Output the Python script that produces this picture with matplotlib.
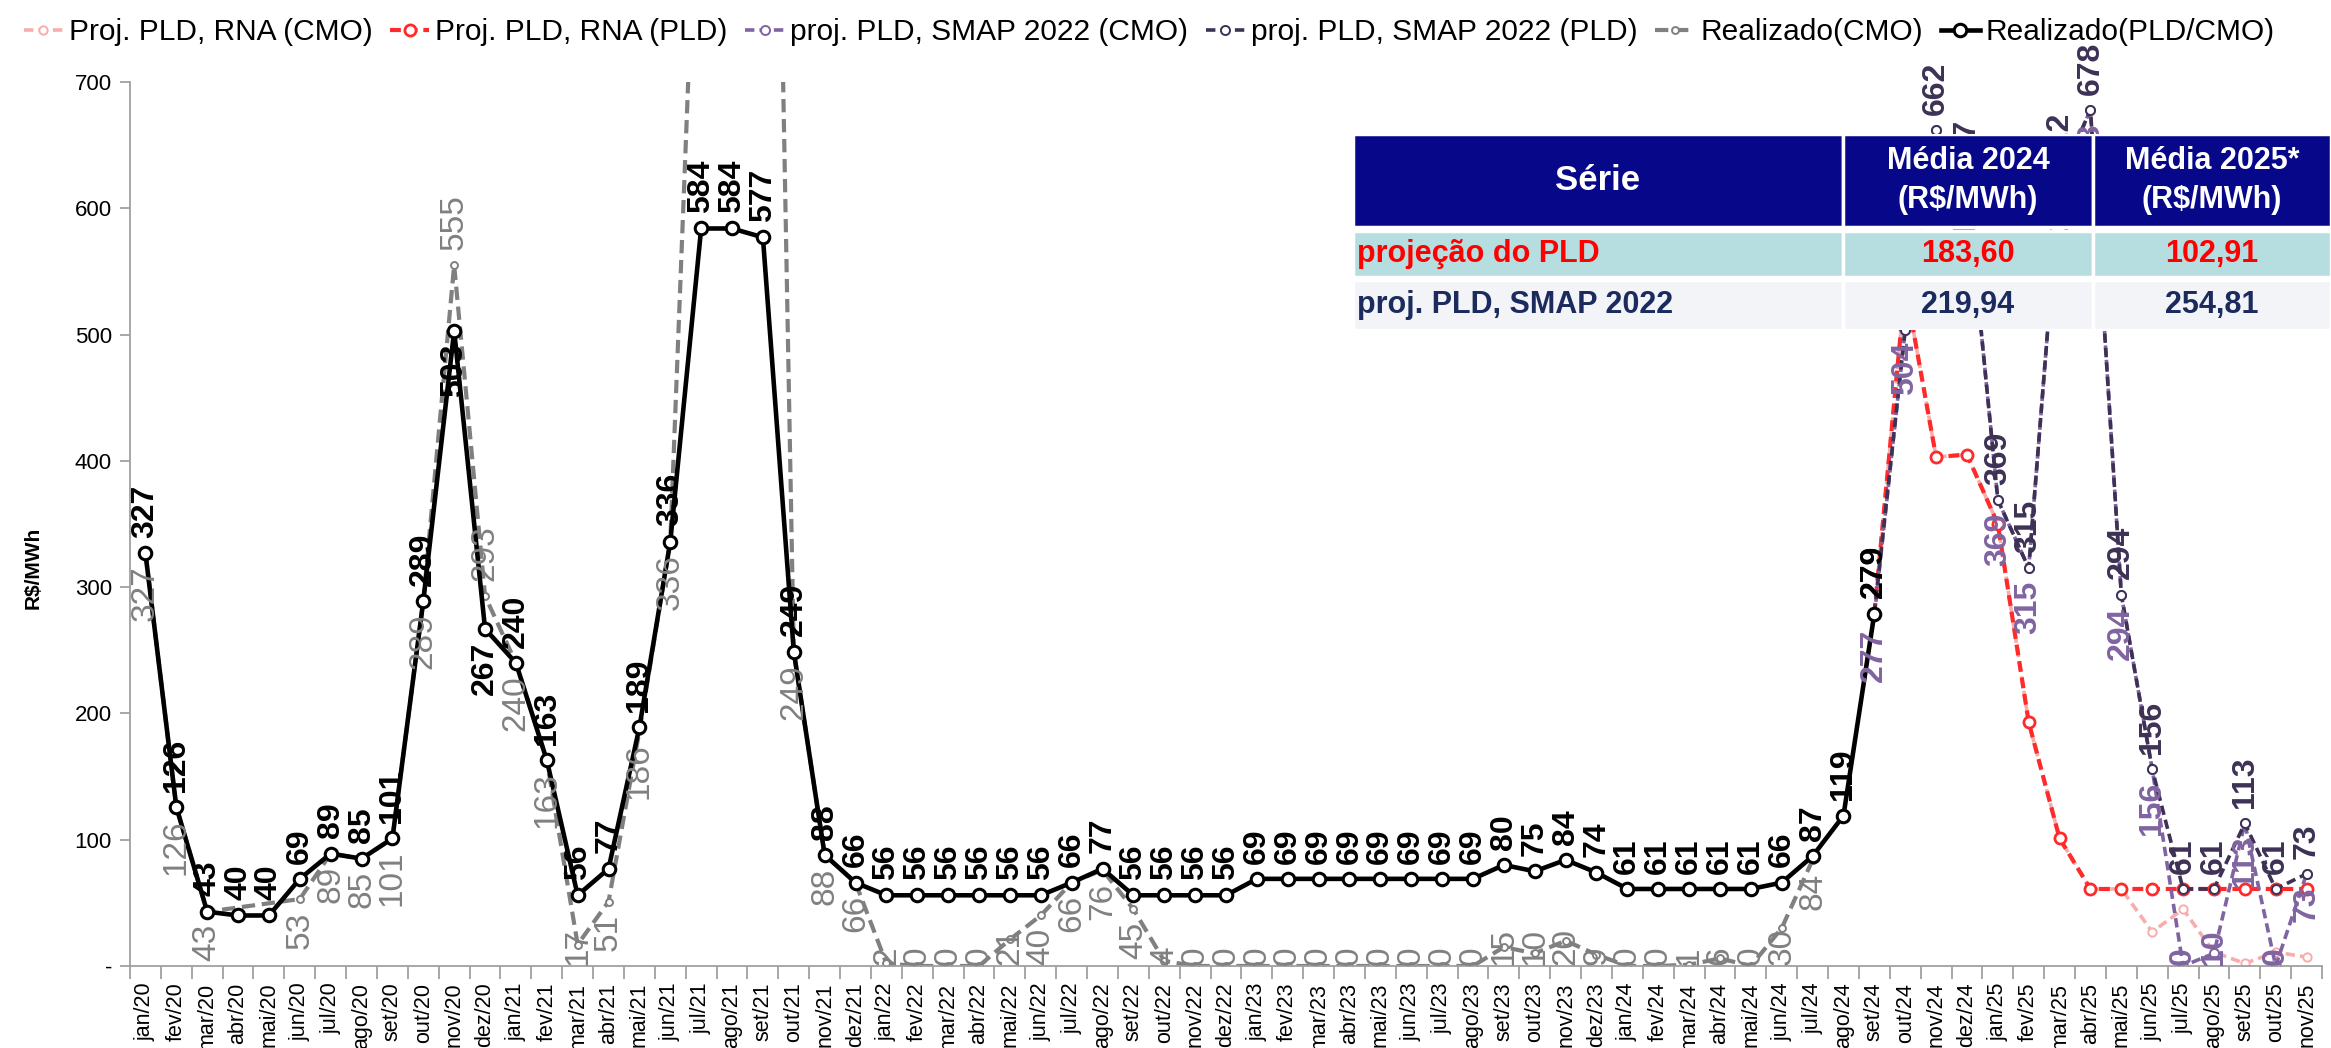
import numpy as np
import matplotlib
matplotlib.use('Agg')
import matplotlib.pyplot as plt
from matplotlib.patches import Rectangle

plt.rcParams['font.family'] = ['Liberation Sans', 'DejaVu Sans']

NaN = np.nan
months = ['jan', 'fev', 'mar', 'abr', 'mai', 'jun', 'jul', 'ago', 'set', 'out', 'nov', 'dez']
cats = [f'{m}/{y}' for y in range(20, 26) for m in months][:71]

# Realizado (PLD/CMO), jan/20 .. set/24
real_pld = [327, 126, 43, 40, 40, 69, 89, 85, 101, 289, 503, 267,
            240, 163, 56, 77, 189, 336, 584, 584, 577, 249, 88, 66,
            56, 56, 56, 56, 56, 56, 66, 77, 56, 56, 56, 56,
            69, 69, 69, 69, 69, 69, 69, 69, 80, 75, 84, 74,
            61, 61, 61, 61, 61, 66, 87, 119, 279] + [NaN] * 14

# Realizado (CMO), jan/20 .. jul/24 (abr/mai 20 empty)
real_cmo = [327, 126, 43, NaN, NaN, 53, 89, 85, 101, 289, 555, 293,
            240, 163, 17, 51, 186, 336, 964, 1200, 1557, 249, 88, 66,
            2, 0, 0, 0, 21, 40, 66, 76, 45, 4, 0, 0,
            0, 0, 0, 0, 0, 0, 0, 0, 15, 10, 20, 9,
            0, 0, 1, 6, 0, 30, 84] + [NaN] * 16

# projections, set/24 .. nov/25
rna_pld = [NaN] * 56 + [279, 539, 403, 405, 350, 193, 101, 61, 61, 61, 61, 61, 61, 61, 61]
rna_cmo = [NaN] * 56 + [279, 539, 403, 405, 350, 193, 101, 61, 61, 27, 45, 11, 2, 11, 7]
smap_cmo = [NaN] * 56 + [277, 504, 662, 617, 369, 315, 622, 678, 294, 156, 0, 10, 113, 0, 73]
smap_pld = [NaN] * 56 + [279, 504, 662, 617, 369, 315, 622, 678, 294, 156, 61, 61, 113, 61, 73]

# summary table
tab_header = ['Série', 'Média 2024\n(R$/MWh)', 'Média 2025*\n(R$/MWh)']
tab_series = ['projeção do PLD', 'proj. PLD, SMAP 2022']
tab_avg24 = ['183,60', '219,94']
tab_avg25 = ['102,91', '254,81']

W, H = 2331, 1048
YMAX = 700
fig = plt.figure(figsize=(W / 100, H / 100), dpi=100)
ax_pos = [130 / W, 1 - 966 / H, (2322 - 130) / W, (966 - 82) / H]
ax = fig.add_axes(ax_pos)
ppu = ax_pos[3] * H / YMAX  # pixels per R$/MWh

x = np.arange(len(cats))

C_PINK, C_RED, C_PURP, C_NAVY, C_GRAY, C_BLK = '#F8ADAD', '#FF2A2A', '#8064A2', '#3D3155', '#808080', '#000000'


def plot_series(vals, color, lw, ms, mew, dashes=(2.6, 1.4), label=None):
    y = np.array(vals, float)
    m = np.isfinite(y)
    kw = dict(color=color, lw=lw, marker='o', ms=ms, mfc='white', mec=color, mew=mew, label=label)
    if dashes:
        kw['dashes'] = dashes
    return ax.plot(x[m], y[m], **kw)[0]


handles = [
    plot_series(rna_cmo, C_PINK, 2.6, 6, 1.4, label='Proj. PLD, RNA (CMO)'),
    plot_series(rna_pld, C_RED, 3.0, 8, 2.0, label='Proj. PLD, RNA (PLD)'),
    plot_series(smap_cmo, C_PURP, 2.6, 6.5, 1.4, label='proj. PLD, SMAP 2022 (CMO)'),
    plot_series(smap_pld, C_NAVY, 2.6, 6.5, 1.4, label='proj. PLD, SMAP 2022 (PLD)'),
    plot_series(real_cmo, C_GRAY, 3.0, 5, 1.4, dashes=(3.2, 1.6), label='Realizado(CMO)'),
    plot_series(real_pld, C_BLK, 3.3, 9, 2.2, dashes=None, label='Realizado(PLD/CMO)'),
]


def add_labels(vals, color, weight, size, default, flip=()):
    digit_px = 0.556 * size / 0.72
    for i, v in enumerate(vals):
        if not np.isfinite(v) or v > YMAX:
            continue
        txt = f'{v:.0f}'
        pos = default
        if i in flip:
            pos = 'below' if default == 'above' else 'above'
        kw = dict(textcoords='offset points', rotation=90, ha='center', color=color,
                  fontsize=size, fontweight=weight, annotation_clip=False)
        if pos == 'above':
            ax.annotate(txt, (i, v), xytext=(0, 11), va='bottom', **kw)
        else:
            need = (9 / 0.72 + len(txt) * digit_px) / ppu
            if v - need < 0:
                ax.annotate(txt, (i, 0), xytext=(0, 1), va='bottom', **kw)
            else:
                ax.annotate(txt, (i, v), xytext=(0, -9), va='top', **kw)


i_nov20, i_dez20 = cats.index('nov/20'), cats.index('dez/20')
add_labels(smap_cmo, C_PURP, 'bold', 23, 'below')
add_labels(smap_pld, C_NAVY, 'bold', 23, 'above')
add_labels(real_cmo, C_GRAY, 'normal', 24, 'below', flip=(i_nov20, i_dez20))
add_labels(real_pld, C_BLK, 'bold', 23, 'above', flip=(i_nov20, i_dez20))

ax.set_xlim(-0.5, len(cats) - 0.5)
ax.set_ylim(0, YMAX)
ax.set_yticks(np.arange(0, YMAX + 1, 100))
ax.set_yticklabels(['-'] + [str(v) for v in range(100, YMAX + 1, 100)], fontsize=16)
ax.set_xticks(x)
ax.set_xticklabels(cats, rotation=90, fontsize=15.5)
ax.set_xticks(np.arange(-0.5, len(cats), 1), minor=True)
ax.tick_params(axis='x', which='major', length=0, pad=12)
ax.tick_params(axis='x', which='minor', length=9, color='#A0A0A0', width=1.3)
ax.tick_params(axis='y', length=7, color='#A0A0A0', width=1.3, pad=6)
for s in ['top', 'right']:
    ax.spines[s].set_visible(False)
for s in ['left', 'bottom']:
    ax.spines[s].set_color('#A0A0A0')
    ax.spines[s].set_linewidth(1.3)
ax.set_ylabel('R$/MWh', fontsize=15, fontweight='bold')
ax.yaxis.set_label_coords(-0.040, 0.45)

fig.legend(handles=handles, loc='upper center', bbox_to_anchor=(0.493, 1.008), ncol=6,
           frameon=False, fontsize=21.5, handlelength=1.3, handletextpad=0.2, columnspacing=0.6)

# summary table drawn on top of the chart
tab = fig.add_axes([1353 / W, 1 - 330 / H, (W - 1353) / W, 196 / H])
tab.set_zorder(5)
tab.set_xlim(0, W - 1353)
tab.set_ylim(196, 0)
tab.axis('off')
col_x = [0, 490, 740, W - 1353]
row_y = [(0, 93), (97, 143), (146, 196)]
row_bg = ['#07078A', '#B6DDE0', '#F2F4F8']
row_fg = ['white', '#FF0000', '#1B2B5E']
for r, (y0, y1) in enumerate(row_y):
    for c in range(3):
        tab.add_patch(Rectangle((col_x[c], y0), col_x[c + 1] - col_x[c], y1 - y0,
                                facecolor=row_bg[r], edgecolor='white', lw=2.5))
for c in range(3):
    tab.text((col_x[c] + col_x[c + 1]) / 2, 46.5, tab_header[c], color='white',
             fontsize=25 if c == 0 else 22, fontweight='bold', ha='center', va='center',
             linespacing=1.35)
for r in range(2):
    y0, y1 = row_y[r + 1]
    yc = (y0 + y1) / 2
    fg = row_fg[r + 1]
    tab.text(4, yc, tab_series[r], color=fg, fontsize=22, fontweight='bold', ha='left', va='center')
    tab.text((col_x[1] + col_x[2]) / 2, yc, tab_avg24[r], color=fg, fontsize=22,
             fontweight='bold', ha='center', va='center')
    tab.text((col_x[2] + col_x[3]) / 2, yc, tab_avg25[r], color=fg, fontsize=22,
             fontweight='bold', ha='center', va='center')

plt.savefig('out.png', dpi=100)
